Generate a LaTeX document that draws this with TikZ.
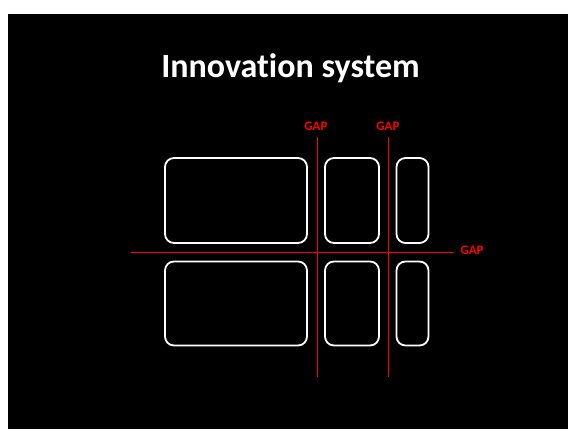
\documentclass[tikz,border=0pt]{standalone}
\usepackage{fontspec}
\setmainfont[Ligatures=NoCommon]{Carlito}
\usepackage{xcolor}

\begin{document}
\begin{tikzpicture}[x=1pt, y=-1pt]
		\tikzset{block/.style = {shape=rectangle, draw=white, line width=1.8pt, rounded corners=9pt, inner sep=0pt}}
		\tikzset{gapline/.style = {draw=red, line width=1.1pt}}
		\tikzset{gaplabel/.style = {text=red, font=\fontsize{13}{15}\selectfont\bfseries, inner sep=0pt, anchor=base}}

		\useasboundingbox (0,0) rectangle (568,429);
		\fill[black] (8,14) rectangle (568,429);

		\node[text=white, font=\fontsize{34}{40}\selectfont\bfseries, anchor=base] (title) at (290.5,77) {Innovation system};

		\node[block, minimum width=142pt, minimum height=85pt] (A_1) at (236,200.5) {};
		\node[block, minimum width=142pt, minimum height=84pt] (A_2) at (236,303.5) {};
		\node[block, minimum width=54pt, minimum height=85pt] (B_1) at (352,200.5) {};
		\node[block, minimum width=54pt, minimum height=84pt] (B_2) at (352,303.5) {};
		\node[block, minimum width=32pt, minimum height=85pt] (C_1) at (412.5,200.5) {};
		\node[block, minimum width=32pt, minimum height=84pt] (C_2) at (412.5,303.5) {};

		\coordinate (v1top) at (317.3,137);
		\coordinate (v1bot) at (317.3,377);
		\coordinate (v2top) at (388.3,137);
		\coordinate (v2bot) at (388.3,377);
		\coordinate (hleft) at (131,252.3);
		\coordinate (hright) at (454,252.3);

		\draw[gapline, line width=0.9pt] (v1top) to (v1bot);
		\draw[gapline] (v2top) to (v2bot);
		\draw[gapline] (hleft) to (hright);

		\node[gaplabel] (g1) at (316,130) {GAP};
		\node[gaplabel] (g2) at (388,130) {GAP};
		\node[gaplabel, anchor=base west] (g3) at (460.3,254) {GAP};

	\end{tikzpicture}
\end{document}
